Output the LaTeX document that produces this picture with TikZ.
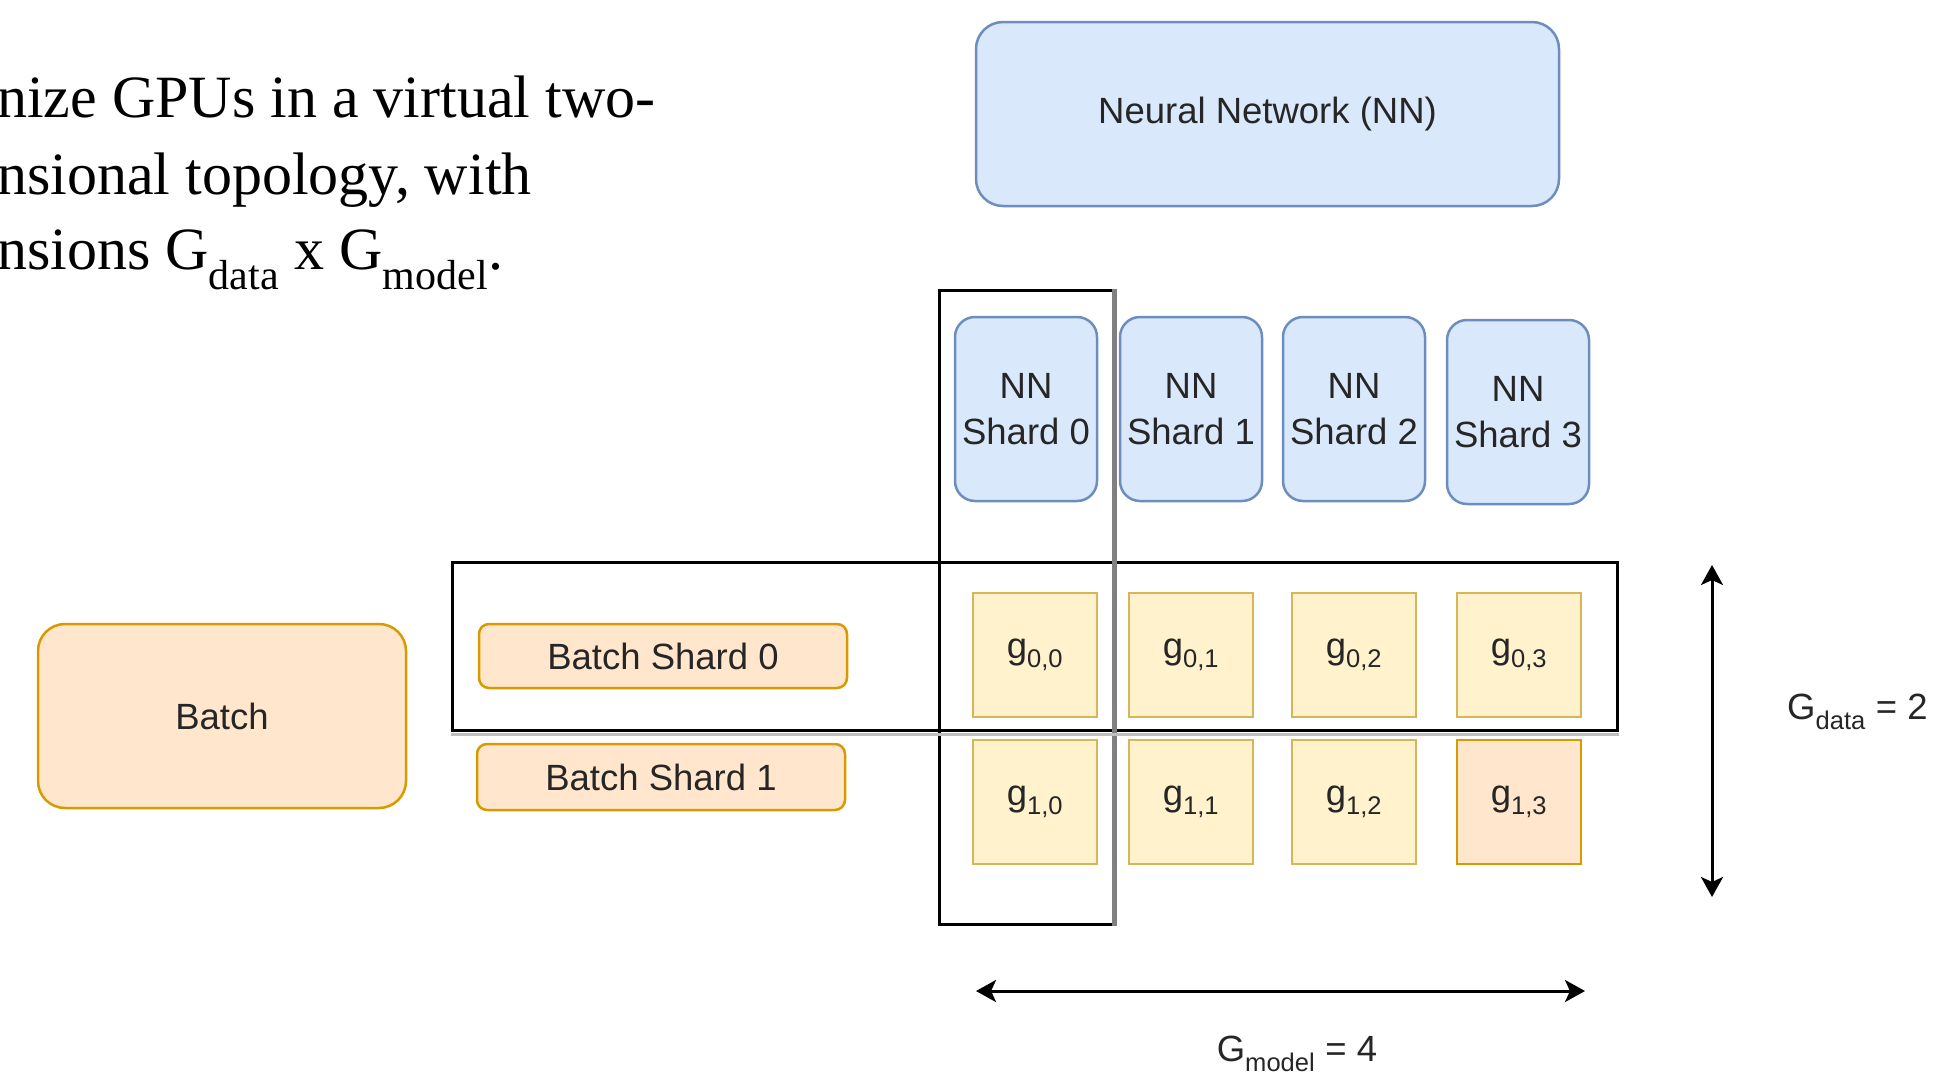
\documentclass[tikz,border=0pt]{standalone}
\usepackage{fontspec}
\setmainfont{Liberation Sans}
\newfontfamily\bodyserif{Liberation Serif}
\usetikzlibrary{arrows.meta}

\definecolor{nnfill}{HTML}{DAE8FC}
\definecolor{nnline}{HTML}{6C8EBF}
\definecolor{bfill}{HTML}{FFE6CC}
\definecolor{bline}{HTML}{D79B00}
\definecolor{gfill}{HTML}{FFF2CC}
\definecolor{gline}{HTML}{D6B656}

\begin{document}
\begin{tikzpicture}[x=1pt,y=-1pt,
  lbl/.style={font=\fontsize{36.5}{46}\selectfont, text=black!85, align=center, inner sep=0pt},
  nnbox/.style={lbl, draw=nnline, fill=nnfill, line width=2.5pt, rounded corners=#1},
  bbox/.style={lbl, draw=bline, fill=bfill, line width=2.5pt, rounded corners=#1},
  gpu/.style={lbl, draw=gline, fill=gfill, line width=2.5pt, minimum width=124pt, minimum height=124pt},
  gpuhot/.style={gpu, draw=bline, fill=bfill},
  frame/.style={draw=black, line width=3pt, inner sep=0pt},
  dimarrow/.style={line width=3pt, {Stealth[length=20pt,width=22pt,inset=5pt]}-{Stealth[length=20pt,width=22pt,inset=5pt]}},
  para/.style={font=\bodyserif\fontsize{60}{77}\selectfont, anchor=base west, inner sep=0pt}
]
\useasboundingbox (0,0) rectangle (1937,1079);

% introductory paragraph
\node[para] (p1) at (-3,117) {nize GPUs in a virtual two-};
\node[para] (p2) at (-3,194) {nsional topology, with};
\node[para] (p3) at (-3,269) {nsions G\textsubscript{data} x G\textsubscript{model}.};

% groupings: model-parallel column and data-parallel row
\node[frame, minimum width=174pt, minimum height=634pt] (colframe) at (1026,607) {};
\node[frame, minimum width=1165pt, minimum height=168pt] (rowframe) at (1034.5,646) {};
\draw[gray, line width=4.5pt] (colframe.north east) -- (colframe.south east);
\draw[black!25, line width=2.5pt] ([yshift=-3pt]rowframe.south west) -- ([yshift=-3pt]rowframe.south east);

% the network and its shards
\node[nnbox=27pt, minimum width=583pt, minimum height=184pt] (nn) at (1267.5,114) {Neural Network (NN)};
\node[nnbox=20pt, minimum width=142pt, minimum height=184pt] (s0) at (1026,409) {NN\\Shard 0};
\node[nnbox=20pt, minimum width=142pt, minimum height=184pt] (s1) at (1191,409) {NN\\Shard 1};
\node[nnbox=20pt, minimum width=142pt, minimum height=184pt] (s2) at (1354,409) {NN\\Shard 2};
\node[nnbox=20pt, minimum width=142pt, minimum height=184pt] (s3) at (1518,412) {NN\\Shard 3};

% the batch and its shards
\node[bbox=27pt, minimum width=368pt, minimum height=184pt] (batch) at (222,716) {Batch};
\node[bbox=10pt, minimum width=368pt, minimum height=64pt] (bs0) at (663,656) {Batch Shard 0};
\node[bbox=10pt, minimum width=368pt, minimum height=66pt] (bs1) at (661,777) {Batch Shard 1};

% GPU grid
\node[gpu] (g00) at (1035,655) {g\textsubscript{0,0}};
\node[gpu] (g01) at (1191,655) {g\textsubscript{0,1}};
\node[gpu] (g02) at (1354,655) {g\textsubscript{0,2}};
\node[gpu] (g03) at (1519,655) {g\textsubscript{0,3}};
\node[gpu] (g10) at (1035,802) {g\textsubscript{1,0}};
\node[gpu] (g11) at (1191,802) {g\textsubscript{1,1}};
\node[gpu] (g12) at (1354,802) {g\textsubscript{1,2}};
\node[gpuhot] (g13) at (1519,802) {g\textsubscript{1,3}};

% dimension arrows and labels
\coordinate (dtop) at (1712,565);
\coordinate (dbot) at (1712,897);
\coordinate (mleft) at (976,991);
\coordinate (mright) at (1585,991);
\draw[dimarrow] (dtop) -- (dbot);
\draw[dimarrow] (mleft) -- (mright);
\node[lbl, anchor=west] (gdata) at (1787,712) {G\textsubscript{data} = 2};
\node[lbl] (gmodel) at (1297,1054) {G\textsubscript{model} = 4};
\end{tikzpicture}
\end{document}
